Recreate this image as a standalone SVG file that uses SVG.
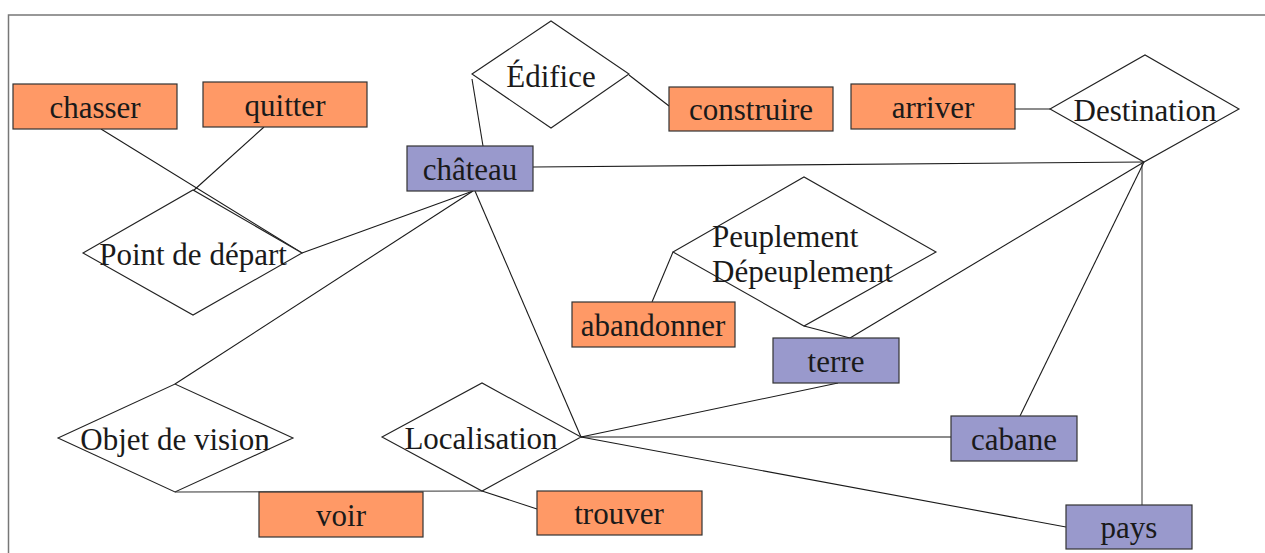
<svg xmlns="http://www.w3.org/2000/svg" width="1265" height="553" viewBox="0 0 1265 553">
<style>
.ent rect{stroke:#333;stroke-width:1.2}
.o rect{fill:#FF9966}
.b rect{fill:#9999CC}
.rel polygon{fill:#fff;stroke:#222;stroke-width:1.1}
text{font-family:"Liberation Serif","Times New Roman",serif;font-size:31px;fill:#1a1a1a;text-anchor:middle}
#connectors line{stroke:#1a1a1a;stroke-width:1.1}
#connectors line.g{stroke:#777;stroke-width:1.5}
</style>
<rect width="1265" height="553" fill="#fff"/>
<rect x="8.5" y="15" width="1300" height="600" fill="none" stroke="#777" stroke-width="1.5"/>
<g id="connectors">
<line x1="101" y1="129" x2="302" y2="253"/>
<line x1="264" y1="127" x2="193" y2="191"/>
<line x1="302" y1="253" x2="473" y2="191"/>
<line x1="175" y1="384" x2="473" y2="191"/>
<line x1="475" y1="191" x2="581" y2="437"/>
<line x1="472" y1="79" x2="483" y2="146"/>
<line x1="629" y1="75" x2="669" y2="106"/>
<line x1="1015" y1="109" x2="1050" y2="109"/>
<line x1="533" y1="167" x2="1144" y2="162"/>
<line class="g" x1="1142" y1="162" x2="1142" y2="505"/>
<line x1="1144" y1="162" x2="1020" y2="416"/>
<line x1="1144" y1="162" x2="850" y2="338"/>
<line x1="804" y1="326" x2="850" y2="338"/>
<line x1="673" y1="252" x2="652" y2="302"/>
<line x1="581" y1="437" x2="838" y2="383"/>
<line x1="581" y1="437" x2="951" y2="437"/>
<line x1="581" y1="437" x2="1066" y2="527"/>
<line class="g" x1="175" y1="492" x2="482" y2="491"/>
<line x1="482" y1="491" x2="537" y2="509"/>
</g>
<g id="rel-point-depart" class="rel"><polygon points="83,253 193,190 302,253 193,315"/><text x="193" y="265">Point de départ</text></g>
<g id="rel-edifice" class="rel"><polygon points="472,74 551,21 629,74 551,128"/><text x="551" y="87">Édifice</text></g>
<g id="rel-destination" class="rel"><polygon points="1050,109 1145,55 1239,109 1144,162"/><text x="1145" y="121">Destination</text></g>
<g id="rel-peuplement" class="rel"><polygon points="673,252 804,177 936,252 804,326"/><text x="712" y="247" style="text-anchor:start">Peuplement</text><text x="712" y="282" style="text-anchor:start">Dépeuplement</text></g>
<g id="rel-objet-vision" class="rel"><polygon points="58,438 175,384 293,438 175,492"/><text x="175" y="450">Objet de vision</text></g>
<g id="rel-localisation" class="rel"><polygon points="382,437 482,383 581,437 482,491"/><text x="481" y="449">Localisation</text></g>
<g id="ent-chasser" class="ent o"><rect x="13" y="84" width="164" height="45"/><text x="95" y="118">chasser</text></g>
<g id="ent-quitter" class="ent o"><rect x="203" y="82" width="164" height="45"/><text x="285" y="116">quitter</text></g>
<g id="ent-chateau" class="ent b"><rect x="407" y="146" width="126" height="45"/><text x="470" y="180">château</text></g>
<g id="ent-construire" class="ent o"><rect x="669" y="87" width="164" height="44"/><text x="751" y="120">construire</text></g>
<g id="ent-arriver" class="ent o"><rect x="851" y="84" width="164" height="45"/><text x="933" y="118">arriver</text></g>
<g id="ent-abandonner" class="ent o"><rect x="572" y="302" width="163" height="45"/><text x="653" y="336">abandonner</text></g>
<g id="ent-terre" class="ent b"><rect x="773" y="338" width="126" height="45"/><text x="836" y="372">terre</text></g>
<g id="ent-voir" class="ent o"><rect x="259" y="492" width="164" height="45"/><text x="341" y="526">voir</text></g>
<g id="ent-trouver" class="ent o"><rect x="537" y="491" width="165" height="44"/><text x="619" y="524">trouver</text></g>
<g id="ent-cabane" class="ent b"><rect x="951" y="416" width="126" height="45"/><text x="1014" y="450">cabane</text></g>
<g id="ent-pays" class="ent b"><rect x="1066" y="505" width="126" height="44"/><text x="1129" y="538">pays</text></g>
</svg>
